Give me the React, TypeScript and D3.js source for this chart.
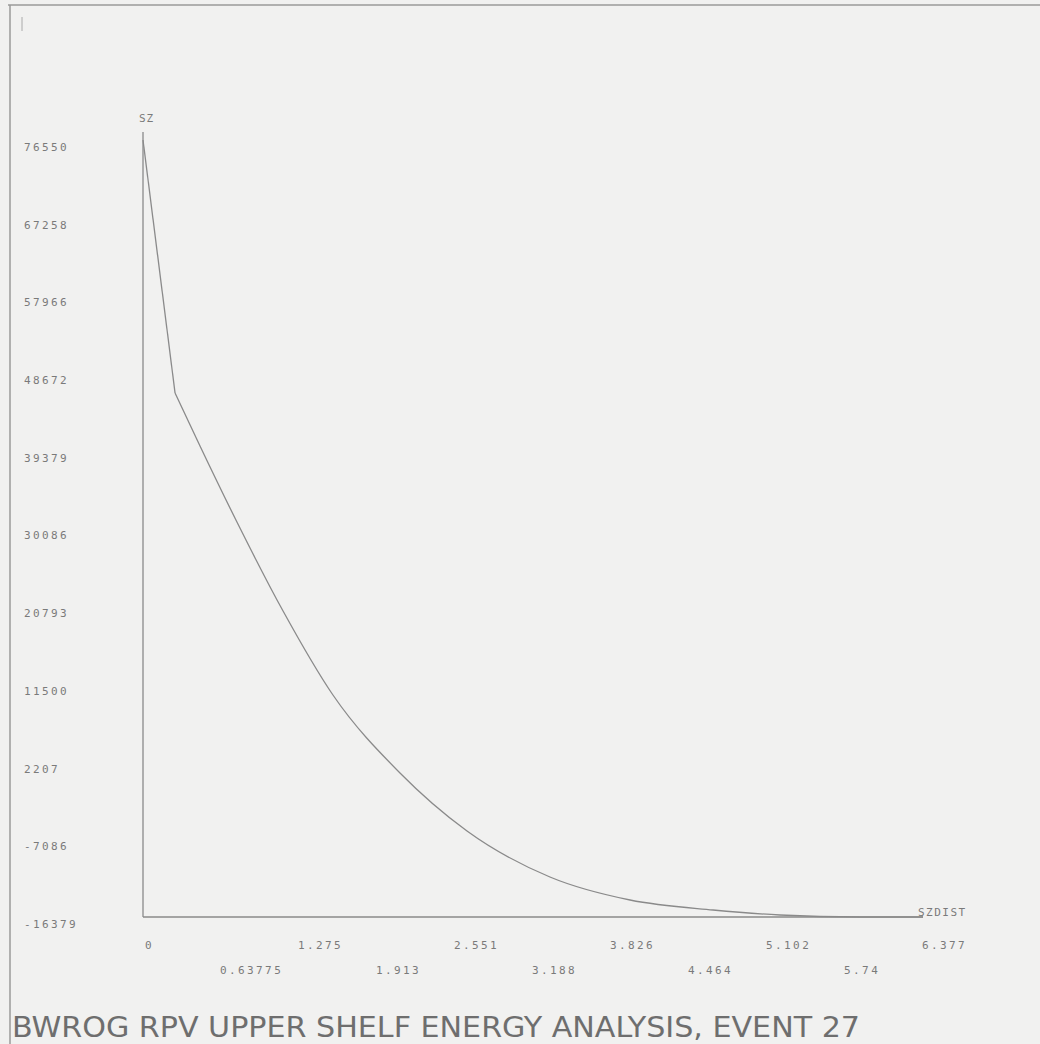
import { useRef, useEffect } from 'react';
import * as d3 from 'd3';

// distance along the path (x) and stress SZ (y)
const distValues = [0, 0.262, 0.466, 0.768, 1.145, 1.553, 2.101, 2.649, 3.327, 3.982, 4.66, 5.208, 5.862, 6.377];
const szValues = [76550, 46291, 39952, 30863, 20218, 10172, 843, -6094, -11595, -14346, -15542, -16140, -16379, -16379];

const yTickLabels = ['76550', '67258', '57966', '48672', '39379', '30086', '20793', '11500', '2207', '-7086', '-16379'];
const yTickValues = [76550, 67258, 57966, 48672, 39379, 30086, 20793, 11500, 2207, -7086, -16379];
const xTickLabels = ['0', '0.63775', '1.275', '1.913', '2.551', '3.188', '3.826', '4.464', '5.102', '5.74', '6.377'];
const xTickValues = [0, 0.63775, 1.275, 1.913, 2.551, 3.188, 3.826, 4.464, 5.102, 5.74, 6.377];

const title = 'BWROG RPV UPPER SHELF ENERGY ANALYSIS, EVENT 27';

const W = 1040;
const H = 1044;

export default function App() {
  const svgRef = useRef<SVGSVGElement>(null);

  useEffect(() => {
    if (!svgRef.current) return;
    const svg = d3.select(svgRef.current);
    svg.selectAll('*').remove();

    const ink = '#8a8a8a';
    const textInk = '#7a7a7a';
    const mono = '"DejaVu Sans Mono", monospace';

    svg.append('rect').attr('width', W).attr('height', H).attr('fill', '#f1f1f0');

    // outer frame
    svg.append('line').attr('x1', 8).attr('x2', W).attr('y1', 5).attr('y2', 5)
      .attr('stroke', '#9a9a9a').attr('stroke-width', 1.5);
    svg.append('line').attr('x1', 10).attr('x2', 10).attr('y1', 5).attr('y2', H)
      .attr('stroke', '#9a9a9a').attr('stroke-width', 1.5);
    svg.append('line').attr('x1', 22).attr('x2', 22).attr('y1', 17).attr('y2', 31)
      .attr('stroke', '#aaa').attr('stroke-width', 1);

    const x0 = 143, x1 = 923, yTop = 140, yBot = 917;
    const xScale = d3.scaleLinear().domain([0, 6.377]).range([x0, x1]);
    const yScale = d3.scaleLinear().domain([-16379, 76550]).range([yBot, yTop]);

    // axes
    svg.append('line').attr('x1', x0).attr('x2', x0).attr('y1', yTop - 8).attr('y2', yBot)
      .attr('stroke', ink).attr('stroke-width', 1.3);
    svg.append('line').attr('x1', x0).attr('x2', x1).attr('y1', yBot).attr('y2', yBot)
      .attr('stroke', ink).attr('stroke-width', 1.3);

    // curve: straight drop to the kink, smooth decay after it
    const pts = distValues.map((d, i) => [d, szValues[i]] as [number, number]);
    const straight = d3.line<[number, number]>()
      .x((d) => xScale(d[0]))
      .y((d) => yScale(d[1]));
    const smooth = d3.line<[number, number]>()
      .x((d) => xScale(d[0]))
      .y((d) => yScale(d[1]))
      .curve(d3.curveMonotoneX);
    svg.append('path').datum(pts.slice(0, 2)).attr('d', straight)
      .attr('fill', 'none').attr('stroke', ink).attr('stroke-width', 1.3);
    svg.append('path').datum(pts.slice(1)).attr('d', smooth)
      .attr('fill', 'none').attr('stroke', ink).attr('stroke-width', 1.3);

    // y labels
    yTickValues.forEach((v, i) => {
      svg.append('text')
        .attr('x', 24)
        .attr('y', yScale(v) + 11)
        .attr('font-family', mono)
        .attr('font-size', 11)
        .attr('letter-spacing', 2.4)
        .attr('fill', textInk)
        .text(yTickLabels[i]);
    });

    // x labels, alternating rows
    xTickValues.forEach((v, i) => {
      svg.append('text')
        .attr('x', xScale(v) + (i === 0 ? 2 : -1))
        .attr('y', i % 2 === 0 ? 949 : 974)
        .attr('font-family', mono)
        .attr('font-size', 11)
        .attr('letter-spacing', 2.4)
        .attr('fill', textInk)
        .text(xTickLabels[i]);
    });

    // axis names
    svg.append('text').attr('x', 139).attr('y', 122)
      .attr('font-family', mono).attr('font-size', 11).attr('letter-spacing', 1)
      .attr('fill', textInk).text('SZ');
    svg.append('text').attr('x', 918).attr('y', 916)
      .attr('font-family', mono).attr('font-size', 11).attr('letter-spacing', 1.5)
      .attr('fill', textInk).text('SZDIST');

    // title
    svg.append('text')
      .attr('x', 12)
      .attr('y', 1037)
      .attr('font-family', '"DejaVu Sans Condensed", "DejaVu Sans", sans-serif')
      .attr('font-size', 28)
      .attr('textLength', 848)
      .attr('lengthAdjust', 'spacingAndGlyphs')
      .attr('fill', '#6e6e6e')
      .text(title);
  }, []);

  return (
    <svg
      ref={svgRef}
      width={W}
      height={H}
      style={{ position: 'absolute', left: 0, top: 0, display: 'block' }}
    />
  );
}
